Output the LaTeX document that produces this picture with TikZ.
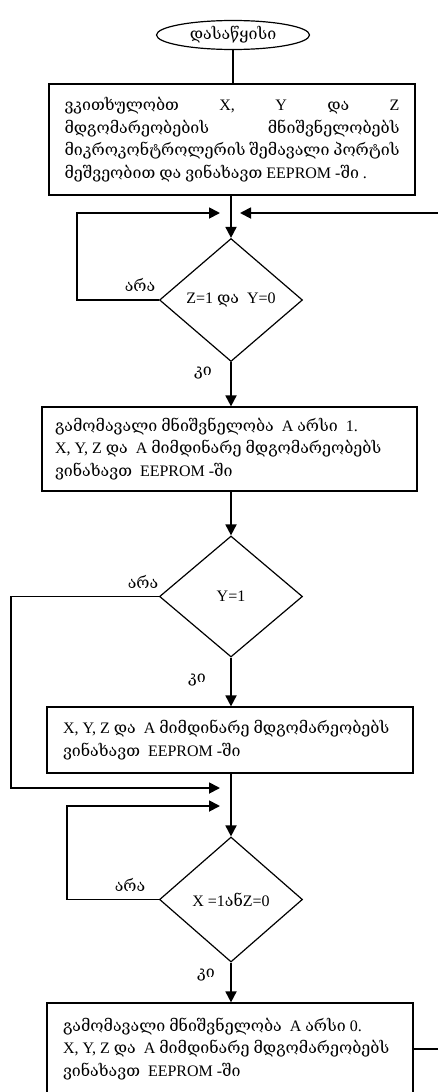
\documentclass[tikz,border=0pt]{standalone}
\usepackage{fontspec}
\setmainfont{Liberation Serif}
\newfontfamily\geofont{DejaVu Serif}[Scale=1.0]
\newcommand{\kart}[1]{{\geofont #1}}
\newcommand{\boxfont}{\fontsize{16}{22.5}\selectfont}
\usetikzlibrary{shapes.geometric,arrows.meta}

\begin{document}
\begin{tikzpicture}[x=1pt,y=-1pt,
  every node/.style={font=\boxfont},
  proc/.style={draw, line width=1.2pt, rectangle, inner xsep=0pt, inner ysep=0pt},
  cond/.style={draw, diamond, line width=1.2pt, minimum width=143pt, minimum height=123pt, inner sep=0pt},
  flow/.style={line width=1.8pt, -{Triangle[length=11pt,width=11pt]}},
  lbl/.style={inner sep=0pt}]
\clip (0,0) rectangle (438,1092);

% start terminal
\node[draw, ellipse, line width=1.2pt, minimum width=153pt, minimum height=29pt, inner sep=0pt]
  (start) at (233,35) {\kart{დასაწყისი}};

% read inputs
\node[proc, minimum width=366pt, minimum height=111pt] (read) at (232,139.5)
  {\begin{minipage}{335pt}\boxfont
   \kart{ვკითხულობთ} X, Y \kart{და} Z\linebreak
   \kart{მდგომარეობების} \kart{მნიშვნელობებს}\linebreak
   \kart{მიკროკონტროლერის} \kart{შემავალი} \kart{პორტის}\linebreak
   \kart{მეშვეობით} \kart{და} \kart{ვინახავთ} EEPROM -\kart{ში} .\end{minipage}};

% first condition
\node[cond] (c1) at (231,300) {Z=1 \kart{და}\ \ Y=0};

\node[proc, minimum width=375pt, minimum height=84pt] (out1) at (229.5,449)
  {\begin{minipage}{349pt}\boxfont\raggedright
   \kart{გამომავალი} \kart{მნიშვნელობა}\ \ A \kart{არსი}\ \ 1.\\
   X, Y, Z \kart{და}\ \ A \kart{მიმდინარე} \kart{მდგომარეობებს}\\
   \kart{ვინახავთ}\ \ EEPROM -\kart{ში}\end{minipage}};

% second condition
\node[cond, minimum height=121pt] (c2) at (231,596.5) {Y=1};

\node[proc, minimum width=366pt, minimum height=66pt] (save) at (230,740)
  {\begin{minipage}{334pt}\boxfont\raggedright
   X, Y, Z \kart{და}\ \ A \kart{მიმდინარე} \kart{მდგომარეობებს}\\
   \kart{ვინახავთ}\ \ EEPROM -\kart{ში}\end{minipage}};

% third condition
\node[cond, minimum height=125pt] (c3) at (231,899.5) {X =1\kart{ან}Z=0};

\node[proc, minimum width=366pt, minimum height=92pt] (out0) at (230,1049)
  {\begin{minipage}{334pt}\boxfont\raggedright
   \kart{გამომავალი} \kart{მნიშვნელობა}\ \ A \kart{არსი} 0.\\
   X, Y, Z \kart{და}\ \ A \kart{მიმდინარე} \kart{მდგომარეობებს}\\
   \kart{ვინახავთ}\ \ EEPROM -\kart{ში}\end{minipage}};

% branch labels
\node[lbl] (no1) at (140,285) {\kart{არა}};
\node[lbl] (yes1) at (203,373) {\kart{კი}};
\node[lbl] (no2) at (143,582) {\kart{არა}};
\node[lbl] (yes2) at (197,680) {\kart{კი}};
\node[lbl] (no3) at (130,885) {\kart{არა}};
\node[lbl] (yes3) at (206,975) {\kart{კი}};

% junction points on the main line
\coordinate (inL1) at (220,213);
\coordinate (inR1) at (240,213);
\coordinate (inL2) at (220,788);
\coordinate (inL3) at (220,806);

% main flow
\draw[line width=1.2pt] (start.south) -- (start.south |- read.north);
\draw[flow] (read.south -| c1.north) -- (c1.north);
\draw[flow] (c1.south) -- (c1.south |- out1.north);
\draw[flow] (out1.south -| c2.north) -- (c2.north);
\draw[flow] (c2.south) -- (c2.south |- save.north);
\draw[flow] (save.south -| c3.north) -- (c3.north);
\draw[flow] (c3.south) -- (c3.south |- out0.north);

% loops back
\draw[flow] (c1.west) -- (77,300) -- (77,213) -- (inL1);
\draw[flow] (c2.west) -- (11,596.5) -- (11,788) -- (inL2);
\draw[flow] (c3.west) -- (67,899.5) -- (67,806) -- (inL3);
\draw[flow] (out0.east |- 0,1049) -- (446,1049) -- (446,213) -- (inR1);
\end{tikzpicture}
\end{document}
